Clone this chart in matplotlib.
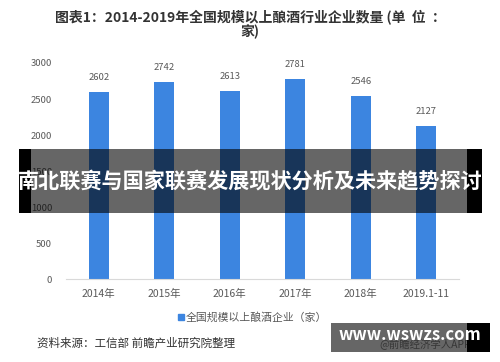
import matplotlib
matplotlib.use("Agg")
import matplotlib.pyplot as plt
from matplotlib.patches import Rectangle

plt.rcParams['font.family'] = ['Noto Sans CJK SC', 'DejaVu Sans']

# data
years = ["2014年", "2015年", "2016年", "2017年", "2018年", "2019.1-11"]
counts = [2602, 2742, 2613, 2781, 2546, 2127]
yticks = [0, 500, 1000, 1500, 2000, 2500, 3000]

bar_color = "#3c85e0"
text_gray = "#595959"

fig = plt.figure(figsize=(5, 3.62), dpi=100)
ax = fig.add_axes([0.132, 0.229, 0.786, 0.597])

x = range(len(years))
ax.bar(x, counts, width=0.31, color=bar_color, zorder=2)
for xi, v in zip(x, counts):
    ax.annotate(str(v), (xi, v), xytext=(0, 7), textcoords="offset points",
                ha="center", va="bottom", fontsize=6.8, color=text_gray)

ax.set_ylim(0, 3000)
ax.set_xlim(-0.5, len(years) - 0.5)
ax.set_yticks(yticks)
ax.set_yticklabels([str(t) for t in yticks], fontsize=6.8, color=text_gray)
ax.set_xticks(list(x))
ax.set_xticklabels(years, fontsize=7.5, color=text_gray)
ax.tick_params(axis="both", length=0)
ax.tick_params(axis="y", pad=10)
ax.tick_params(axis="x", pad=7)
for s in ["top", "right", "left"]:
    ax.spines[s].set_visible(False)
ax.spines["bottom"].set_color("#d9d9d9")
ax.spines["bottom"].set_linewidth(0.8)

# title
fig.text(0.5, 0.953, "图表1：2014-2019年全国规模以上酿酒行业企业数量 (单  位  ：",
         ha="center", va="center", fontsize=10, fontweight="bold", color="#333333")
fig.text(0.5, 0.913, "家)", ha="center", va="center", fontsize=10,
         fontweight="bold", color="#333333")

# legend
fig.patches.append(Rectangle((0.355, 0.115), 0.013, 0.018, transform=fig.transFigure,
                             color=bar_color))
fig.text(0.372, 0.124, "全国规模以上酿酒企业（家）", ha="left", va="center",
         fontsize=7.8, color=text_gray)

# source
fig.text(0.074, 0.052, "资料来源：工信部 前瞻产业研究院整理", ha="left", va="center",
         fontsize=8.3, color="#333333")

# overlay banner
def px(x0, y0, x1, y1):
    return (x0 / 500, 1 - y1 / 362), (x1 - x0) / 500, (y1 - y0) / 362

for (x0, x1, a) in [(19, 31, 1.0), (31, 467, 0.6), (467, 482, 1.0)]:
    xy, w, h = px(x0, 149, x1, 213)
    fig.patches.append(Rectangle(xy, w, h, transform=fig.transFigure,
                                 facecolor="black", alpha=a, zorder=5))
fig.text(0.5, 1 - 182 / 362, "南北联赛与国家联赛发展现状分析及未来趋势探讨",
         ha="center", va="center", fontsize=15.2, fontweight="bold",
         color="white", zorder=6)

# bottom-right badge
fig.text(0.85, 1 - 344 / 362, "@前瞻经济学人APP", ha="center", va="center",
         fontsize=7.5, color="#888888")
for (x0, x1, a) in [(331, 467, 0.6), (467, 490, 1.0)]:
    xy, w, h = px(x0, 323, x1, 352)
    fig.patches.append(Rectangle(xy, w, h, transform=fig.transFigure,
                                 facecolor="black", alpha=a, zorder=5))
fig.text(0.819, 1 - 335 / 362, "www.wswzs.com", ha="center", va="center",
         fontsize=12, fontweight="bold", color="white", zorder=6)

fig.savefig("out.png", dpi=100)
